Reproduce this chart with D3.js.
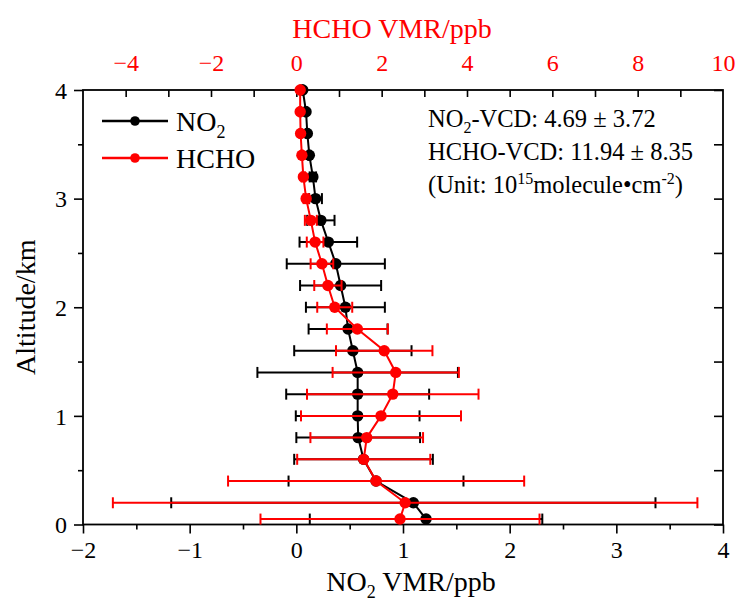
<!DOCTYPE html>
<html>
<head>
<meta charset="utf-8">
<script src="https://cdn.jsdelivr.net/npm/d3@7"></script>
<style>
  body { margin: 0; background: #fff; }
  svg { display: block; }
  text { font-family: "Liberation Serif", "Times New Roman", serif; }
</style>
</head>
<body>
<svg id="chart" width="739" height="604"></svg>
<script>
// Altitude levels of the retrieved profiles (km)
const altitude = [0.05, 0.2, 0.4, 0.6, 0.8, 1.0, 1.2, 1.4, 1.6, 1.8, 2.0,
                  2.2, 2.4, 2.6, 2.8, 3.0, 3.2, 3.4, 3.6, 3.8, 4.0];

// NO2 volume mixing ratio (ppb) and its standard deviation
const no2    = [1.216, 1.097, 0.747, 0.63, 0.58, 0.575, 0.575, 0.575, 0.53, 0.485, 0.46,
                0.415, 0.37, 0.30, 0.23, 0.18, 0.155, 0.122, 0.103, 0.091, 0.06];
const no2Err = [1.09, 2.27, 0.82, 0.65, 0.58, 0.58, 0.67, 0.94, 0.55, 0.37, 0.37,
                0.38, 0.46, 0.27, 0.128, 0.06, 0.03, 0.01, 0.01, 0.01, 0.005];

// HCHO volume mixing ratio (ppb) and its standard deviation
const hcho    = [2.43, 2.55, 1.87, 1.58, 1.65, 1.985, 2.26, 2.33, 2.06, 1.43, 0.90,
                 0.74, 0.60, 0.44, 0.34, 0.23, 0.165, 0.13, 0.10, 0.09, 0.09];
const hchoErr = [3.27, 6.85, 3.47, 1.56, 1.32, 1.875, 2.01, 1.48, 1.13, 0.715, 0.41,
                 0.32, 0.265, 0.195, 0.14, 0.06, 0.04, 0.02, 0.02, 0.02, 0.01];

// Axis ticks
const no2Ticks   = [-2, -1, 0, 1, 2, 3, 4];
const hchoTicks  = [-4, -2, 0, 2, 4, 6, 8, 10];
const altTicks   = [0, 1, 2, 3, 4];

// Column-density annotation
const vcdNO2  = ["4.69", "3.72"];
const vcdHCHO = ["11.94", "8.35"];

const FONT = '"Liberation Serif", "Times New Roman", serif';
const svg = d3.select("#chart").attr("font-family", FONT);
const M = { left: 83, right: 723, top: 90, bottom: 524.5 };

const xNO2  = d3.scaleLinear().domain([-2, 4]).range([M.left, M.right]);
const xHCHO = d3.scaleLinear().domain([-5, 10]).range([M.left, M.right]);
const y     = d3.scaleLinear().domain([0, 4]).range([M.bottom, M.top]);

const RED = "#ff0000";
const fmt = d3.format("d");

function styleAxis(g) {
  g.attr("font-family", FONT).attr("font-size", 24);
  g.select(".domain").remove();
  g.selectAll(".tick line").attr("stroke", "#000").attr("stroke-width", 1.6);
  g.selectAll("text").attr("font-family", FONT).attr("font-size", 24).attr("fill", "#000");
}

// Bottom axis (NO2): major and minor ticks, outward
svg.append("g").attr("transform", `translate(0,${M.bottom})`)
  .call(d3.axisBottom(xNO2).tickValues(d3.range(-1.5, 4, 1)).tickSize(5).tickFormat(""))
  .call(styleAxis);
const bAx = svg.append("g").attr("transform", `translate(0,${M.bottom})`)
  .call(d3.axisBottom(xNO2).tickValues(no2Ticks).tickSize(9).tickFormat(fmt))
  .call(styleAxis);
bAx.selectAll("text").attr("y", 33).attr("dy", 0);

// Top axis (HCHO): ticks at every integer, pointing into the plot
svg.append("g").attr("transform", `translate(0,${M.top})`)
  .call(d3.axisTop(xHCHO).tickValues(d3.range(-4, 10, 1)).tickSizeInner(-7).tickSizeOuter(0).tickFormat(""))
  .call(styleAxis);
const tAx = svg.append("g").attr("transform", `translate(0,${M.top})`)
  .call(d3.axisTop(xHCHO).tickValues(hchoTicks).tickSize(0).tickFormat(fmt))
  .call(styleAxis);
tAx.selectAll("text").attr("y", -19).attr("dy", 0).attr("fill", RED);

// Left axis (altitude)
svg.append("g").attr("transform", `translate(${M.left},0)`)
  .call(d3.axisLeft(y).tickValues(d3.range(0.5, 4, 1)).tickSize(5).tickFormat(""))
  .call(styleAxis);
const lAx = svg.append("g").attr("transform", `translate(${M.left},0)`)
  .call(d3.axisLeft(y).tickValues(altTicks).tickSize(9).tickFormat(fmt))
  .call(styleAxis);
lAx.selectAll("text").attr("x", -16).attr("dy", "0.34em");

// Right axis: inward ticks only
svg.append("g").attr("transform", `translate(${M.right},0)`)
  .call(d3.axisLeft(y).tickValues(d3.range(0, 4.01, 0.5)).tickSize(-9).tickFormat(""))
  .call(g => { styleAxis(g); g.selectAll(".tick line").attr("x2", -9); });

// Frame
svg.append("rect")
  .attr("x", M.left).attr("y", M.top)
  .attr("width", M.right - M.left).attr("height", M.bottom - M.top)
  .attr("fill", "none").attr("stroke", "#000").attr("stroke-width", 1.8);

// Axis titles
const bt = svg.append("text").attr("x", 411).attr("y", 591)
  .attr("text-anchor", "middle").attr("font-size", 28);
bt.append("tspan").text("NO");
bt.append("tspan").attr("font-size", 18).attr("dy", 7).text("2");
bt.append("tspan").attr("dy", -7).text(" VMR/ppb");

svg.append("text").attr("x", 392).attr("y", 38)
  .attr("text-anchor", "middle").attr("font-size", 28).attr("fill", RED)
  .text("HCHO VMR/ppb");

svg.append("text")
  .attr("transform", `translate(35,${(M.top + M.bottom) / 2}) rotate(-90)`)
  .attr("text-anchor", "middle").attr("font-size", 28)
  .text("Altitude/km");

// Profiles with horizontal error bars
const CAP = 5.5;
function drawSeries(vals, errs, xs, color) {
  const g = svg.append("g");
  const pts = altitude.map((a, i) => ({ a, v: vals[i], e: errs[i] }));
  const eb = g.append("g").attr("stroke", color).attr("stroke-width", 2);
  pts.forEach(p => {
    const x0 = xs(p.v - p.e), x1 = xs(p.v + p.e), yy = y(p.a);
    eb.append("line").attr("x1", x0).attr("x2", x1).attr("y1", yy).attr("y2", yy);
    eb.append("line").attr("x1", x0).attr("x2", x0).attr("y1", yy - CAP).attr("y2", yy + CAP);
    eb.append("line").attr("x1", x1).attr("x2", x1).attr("y1", yy - CAP).attr("y2", yy + CAP);
  });
  g.append("path").datum(pts)
    .attr("fill", "none").attr("stroke", color).attr("stroke-width", 2)
    .attr("d", d3.line().x(p => xs(p.v)).y(p => y(p.a)));
  g.selectAll("circle").data(pts).join("circle")
    .attr("cx", p => xs(p.v)).attr("cy", p => y(p.a)).attr("r", 5.7)
    .attr("fill", color);
}
drawSeries(no2, no2Err, xNO2, "#000");
drawSeries(hcho, hchoErr, xHCHO, RED);

// Legend
const legend = [
  { name: "NO", sub: "2", color: "#000", y: 121 },
  { name: "HCHO", sub: "", color: RED, y: 158 }
];
legend.forEach(l => {
  svg.append("line").attr("x1", 102).attr("x2", 168).attr("y1", l.y).attr("y2", l.y)
    .attr("stroke", l.color).attr("stroke-width", 2.6);
  svg.append("circle").attr("cx", 135).attr("cy", l.y).attr("r", 4.8).attr("fill", l.color);
  const t = svg.append("text").attr("x", 176).attr("y", l.y + 10).attr("font-size", 28);
  t.append("tspan").text(l.name);
  if (l.sub) t.append("tspan").attr("font-size", 18).attr("dy", 7).text(l.sub);
});

// Column density annotation
const ax = 428, fs = 24.5;
const a1 = svg.append("text").attr("x", ax).attr("y", 127).attr("font-size", fs);
a1.append("tspan").text("NO");
a1.append("tspan").attr("font-size", 16).attr("dy", 6).text("2");
a1.append("tspan").attr("dy", -6).text(`-VCD: ${vcdNO2[0]} \u00b1 ${vcdNO2[1]}`);

svg.append("text").attr("x", ax).attr("y", 160).attr("font-size", fs)
  .text(`HCHO-VCD: ${vcdHCHO[0]} \u00b1 ${vcdHCHO[1]}`);

const a3 = svg.append("text").attr("x", ax).attr("y", 193).attr("font-size", fs);
a3.append("tspan").text("(Unit: 10");
a3.append("tspan").attr("font-size", 16).attr("dy", -9).text("15");
a3.append("tspan").attr("dy", 9).text("molecule\u2022cm");
a3.append("tspan").attr("font-size", 16).attr("dy", -9).text("-2");
a3.append("tspan").attr("dy", 9).text(")");
</script>
</body>
</html>
